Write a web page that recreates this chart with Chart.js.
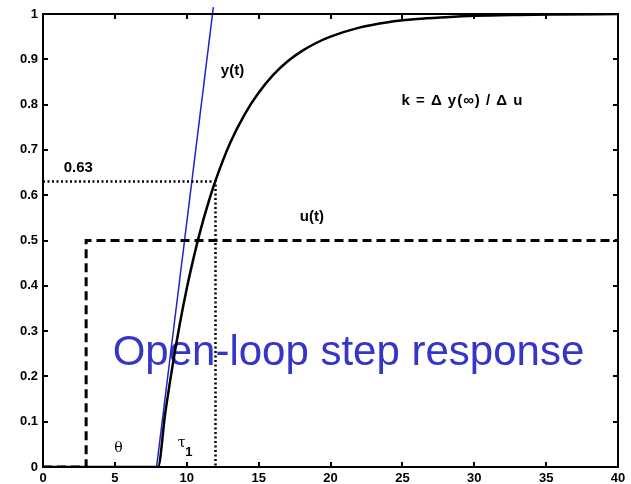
<!DOCTYPE html>
<html>
<head>
<meta charset="utf-8">
<script src="https://cdn.jsdelivr.net/npm/chart.js@4"></script>
<style>
  html, body { margin: 0; padding: 0; background: #fff; }
  #wrap { width: 631px; height: 484px; }
</style>
</head>
<body>
<div id="wrap"><canvas id="stepChart" width="631" height="484"></canvas></div>
<script>
// process output y(t) after the step
const timeValues = [0, 8, 8.5, 9, 9.5, 10, 10.5, 11, 11.5, 12, 13, 14, 15, 16, 17, 18, 19, 20, 22, 24, 26, 28, 30, 33, 36, 40];
const outputValues = [0, 0, 0.118, 0.221, 0.313, 0.394, 0.465, 0.528, 0.583, 0.632, 0.714, 0.777, 0.826, 0.865, 0.895, 0.918, 0.936, 0.950, 0.970, 0.982, 0.989, 0.993, 0.996, 0.998, 0.999, 1.0];

// input step u(t)
const inputTimes = [0, 3, 3, 40];
const inputValues = [0, 0, 0.5, 0.5];

// tangent at the start of the response
const tangentTimes = [7.9, 11.85];
const tangentValues = [0, 1.015];

// 63% point
const markLevel = 0.63;
const markTime = 12;

const xTicks = [0, 5, 10, 15, 20, 25, 30, 35, 40];
const yTicks = [0, 0.1, 0.2, 0.3, 0.4, 0.5, 0.6, 0.7, 0.8, 0.9, 1];

function toPoints(xs, ys) {
    return xs.map((x, i) => ({ x: x, y: ys[i] }));
}

const sans = '"Liberation Sans", Arial, sans-serif';

// text placed in data coordinates
const notes = [
    { text: '0.63', x: 2.46, y: 0.66, font: 'bold 15px ' + sans },
    { text: 'y(t)', x: 13.18, y: 0.874, font: 'bold 15px ' + sans },
    { text: 'u(t)', x: 18.7, y: 0.553, font: 'bold 15px ' + sans },
    { text: 'k = \u0394 y(\u221e) / \u0394 u', x: 29.18, y: 0.809, font: 'bold 15px ' + sans, spacing: '1px' },
    { text: '\u03b8', x: 5.25, y: 0.042, font: '14px "DejaVu Serif", serif' },
    { text: '\u03c4', x: 9.65, y: 0.052, font: '14px "DejaVu Serif", serif' },
    { text: '1', x: 10.15, y: 0.033, font: 'bold 13px ' + sans }
];

const boxPlugin = {
    id: 'box',
    beforeDatasetsDraw(chart) {
        const ctx = chart.ctx;
        const xs = chart.scales.x, ys = chart.scales.y;
        ctx.save();
        ctx.font = '42px ' + sans;
        ctx.fillStyle = '#3535c8';
        ctx.textAlign = 'center';
        ctx.textBaseline = 'alphabetic';
        ctx.fillText('Open-loop step response', xs.getPixelForValue(21.25), ys.getPixelForValue(0.225));
        ctx.restore();
    },
    afterDatasetsDraw(chart) {
        const ctx = chart.ctx;
        const a = chart.chartArea;
        const xs = chart.scales.x, ys = chart.scales.y;
        ctx.save();
        ctx.strokeStyle = '#000';
        ctx.lineWidth = 2;
        ctx.strokeRect(a.left, a.top, a.right - a.left, a.bottom - a.top);
        // inward tick marks on all four sides
        const len = 5;
        ctx.beginPath();
        xTicks.forEach(v => {
            const px = Math.round(xs.getPixelForValue(v));
            ctx.moveTo(px, a.bottom); ctx.lineTo(px, a.bottom - len);
            ctx.moveTo(px, a.top); ctx.lineTo(px, a.top + len);
        });
        yTicks.forEach(v => {
            const py = Math.round(ys.getPixelForValue(v));
            ctx.moveTo(a.left, py); ctx.lineTo(a.left + len, py);
            ctx.moveTo(a.right, py); ctx.lineTo(a.right - len, py);
        });
        ctx.stroke();

        notes.forEach(n => {
            ctx.font = n.font;
            ctx.letterSpacing = n.spacing || '0px';
            ctx.fillStyle = '#000';
            ctx.textAlign = 'center';
            ctx.textBaseline = 'middle';
            ctx.fillText(n.text, xs.getPixelForValue(n.x), ys.getPixelForValue(n.y));
        });
        ctx.restore();
    }
};

const ctx = document.getElementById('stepChart').getContext('2d');
new Chart(ctx, {
    type: 'scatter',
    data: {
        datasets: [
            {
                label: 'u(t)',
                data: toPoints(inputTimes, inputValues),
                showLine: true,
                borderColor: '#000',
                borderWidth: 3,
                borderDash: [9, 5],
                pointRadius: 0,
                tension: 0
            },
            {
                label: '0.63 level',
                data: [{ x: 0, y: markLevel }, { x: markTime, y: markLevel }, { x: markTime, y: 0 }],
                showLine: true,
                borderColor: '#000',
                borderWidth: 2.5,
                borderDash: [2, 2.5],
                pointRadius: 0,
                tension: 0
            },
            {
                label: 'y(t)',
                data: toPoints(timeValues, outputValues),
                showLine: true,
                borderColor: '#000',
                borderWidth: 2.5,
                pointRadius: 0,
                cubicInterpolationMode: 'monotone'
            },
            {
                label: 'tangent',
                data: toPoints(tangentTimes, tangentValues),
                showLine: true,
                borderColor: '#2222cc',
                borderWidth: 1.5,
                pointRadius: 0,
                clip: false
            }
        ]
    },
    options: {
        responsive: false,
        animation: false,
        layout: { padding: { top: 14, right: 13, left: 0, bottom: 0 } },
        plugins: {
            legend: { display: false },
            tooltip: { enabled: false }
        },
        scales: {
            x: {
                type: 'linear',
                min: 0,
                max: 40,
                grid: { display: false, drawTicks: false },
                border: { display: false },
                afterFit: scale => { scale.height = 17; },
                afterBuildTicks: scale => { scale.ticks = xTicks.map(v => ({ value: v })); },
                ticks: {
                    padding: 4,
                    color: '#000',
                    font: { family: sans, size: 13, weight: 'bold' },
                    maxRotation: 0,
                    autoSkip: false
                }
            },
            y: {
                type: 'linear',
                min: 0,
                max: 1,
                grid: { display: false, drawTicks: false },
                border: { display: false },
                afterFit: scale => { scale.width = 43; },
                afterBuildTicks: scale => { scale.ticks = yTicks.map(v => ({ value: v })); },
                ticks: {
                    padding: 5,
                    color: '#000',
                    font: { family: sans, size: 13, weight: 'bold' },
                    autoSkip: false,
                    callback: v => String(Math.round(v * 10) / 10)
                }
            }
        }
    },
    plugins: [boxPlugin]
});
</script>
</body>
</html>
